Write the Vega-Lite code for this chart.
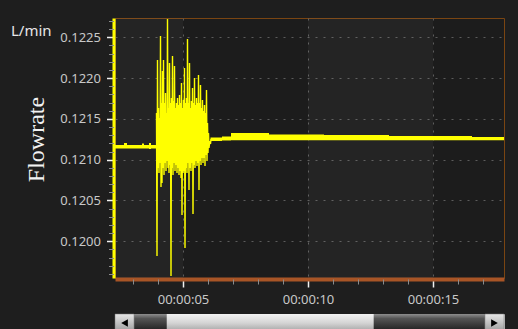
{
  "$schema": "https://vega.github.io/schema/vega-lite/v6.json",
  "autosize": {"type": "pad"},
  "padding": {"left": 10, "top": 15, "right": 15, "bottom": 0},
  "background": "#1e1e1e",
  "spacing": 36,
  "bounds": "flush",
  "datasets": {
    "bands": [
      {"from": 0, "to": 5},
      {"from": 10, "to": 15}
    ],
    "envelope": [
      {"segment": "pre", "t": 2.28, "lo": 0.121137, "hi": 0.12118},
      {"segment": "pre", "t": 2.64, "lo": 0.121137, "hi": 0.121205},
      {"segment": "pre", "t": 2.76, "lo": 0.121137, "hi": 0.12118},
      {"segment": "pre", "t": 3.36, "lo": 0.121137, "hi": 0.121199},
      {"segment": "pre", "t": 3.44, "lo": 0.121137, "hi": 0.12118},
      {"segment": "pre", "t": 3.64, "lo": 0.121131, "hi": 0.121205},
      {"segment": "pre", "t": 3.72, "lo": 0.121137, "hi": 0.12118},
      {"segment": "pre", "t": 3.94, "lo": 0.121137, "hi": 0.12118},
      {"segment": "post", "t": 6.1, "lo": 0.121229, "hi": 0.121272},
      {"segment": "post", "t": 6.56, "lo": 0.121235, "hi": 0.121284},
      {"segment": "post", "t": 6.92, "lo": 0.121237, "hi": 0.121327},
      {"segment": "post", "t": 8.44, "lo": 0.121237, "hi": 0.121309},
      {"segment": "post", "t": 10.64, "lo": 0.121237, "hi": 0.121303},
      {"segment": "post", "t": 13.24, "lo": 0.121237, "hi": 0.12129},
      {"segment": "post", "t": 16.56, "lo": 0.121237, "hi": 0.121278},
      {"segment": "post", "t": 17.84, "lo": 0.121237, "hi": 0.121278}
    ],
    "burst": [
      {"t": 3.94, "v": 0.121572}, {"t": 3.96, "v": 0.11982},
      {"t": 3.98, "v": 0.122222}, {"t": 4.0, "v": 0.120898},
      {"t": 4.02, "v": 0.121634}, {"t": 4.04, "v": 0.120837},
      {"t": 4.06, "v": 0.121511}, {"t": 4.08, "v": 0.12096},
      {"t": 4.1, "v": 0.122516}, {"t": 4.12, "v": 0.120665},
      {"t": 4.14, "v": 0.121695}, {"t": 4.16, "v": 0.120714},
      {"t": 4.18, "v": 0.122087}, {"t": 4.2, "v": 0.120898},
      {"t": 4.22, "v": 0.122222}, {"t": 4.24, "v": 0.120813},
      {"t": 4.26, "v": 0.121695}, {"t": 4.28, "v": 0.12096},
      {"t": 4.3, "v": 0.121817}, {"t": 4.32, "v": 0.120862},
      {"t": 4.34, "v": 0.121572}, {"t": 4.36, "v": 0.120984},
      {"t": 4.38, "v": 0.122724}, {"t": 4.4, "v": 0.120898},
      {"t": 4.42, "v": 0.121634}, {"t": 4.44, "v": 0.120837},
      {"t": 4.46, "v": 0.122185}, {"t": 4.48, "v": 0.120935},
      {"t": 4.5, "v": 0.121695}, {"t": 4.52, "v": 0.119575},
      {"t": 4.54, "v": 0.121756}, {"t": 4.56, "v": 0.120898},
      {"t": 4.58, "v": 0.122271}, {"t": 4.6, "v": 0.120813},
      {"t": 4.62, "v": 0.121719}, {"t": 4.64, "v": 0.12096},
      {"t": 4.66, "v": 0.122148}, {"t": 4.68, "v": 0.120862},
      {"t": 4.7, "v": 0.121634}, {"t": 4.72, "v": 0.120935},
      {"t": 4.74, "v": 0.121695}, {"t": 4.76, "v": 0.120837},
      {"t": 4.78, "v": 0.121756}, {"t": 4.8, "v": 0.120898},
      {"t": 4.82, "v": 0.12167}, {"t": 4.84, "v": 0.120813},
      {"t": 4.86, "v": 0.121793}, {"t": 4.88, "v": 0.120862},
      {"t": 4.9, "v": 0.121695}, {"t": 4.92, "v": 0.120776},
      {"t": 4.94, "v": 0.12194}, {"t": 4.96, "v": 0.120322},
      {"t": 4.98, "v": 0.121634}, {"t": 5.0, "v": 0.120837},
      {"t": 5.02, "v": 0.121732}, {"t": 5.04, "v": 0.120862},
      {"t": 5.06, "v": 0.122124}, {"t": 5.08, "v": 0.119918},
      {"t": 5.1, "v": 0.121695}, {"t": 5.12, "v": 0.120898},
      {"t": 5.14, "v": 0.121756}, {"t": 5.16, "v": 0.120837},
      {"t": 5.18, "v": 0.122479}, {"t": 5.2, "v": 0.12096},
      {"t": 5.22, "v": 0.121695}, {"t": 5.24, "v": 0.120629},
      {"t": 5.26, "v": 0.122185}, {"t": 5.28, "v": 0.120898},
      {"t": 5.3, "v": 0.121634}, {"t": 5.32, "v": 0.120862},
      {"t": 5.34, "v": 0.121719}, {"t": 5.36, "v": 0.12096},
      {"t": 5.38, "v": 0.121879}, {"t": 5.4, "v": 0.120335},
      {"t": 5.42, "v": 0.121695}, {"t": 5.44, "v": 0.120935},
      {"t": 5.46, "v": 0.122001}, {"t": 5.48, "v": 0.120898},
      {"t": 5.5, "v": 0.12167}, {"t": 5.52, "v": 0.120984},
      {"t": 5.54, "v": 0.121756}, {"t": 5.56, "v": 0.120923},
      {"t": 5.58, "v": 0.121695}, {"t": 5.6, "v": 0.12096},
      {"t": 5.62, "v": 0.122038}, {"t": 5.64, "v": 0.120629},
      {"t": 5.66, "v": 0.121695}, {"t": 5.68, "v": 0.120984},
      {"t": 5.7, "v": 0.121916}, {"t": 5.72, "v": 0.120935},
      {"t": 5.74, "v": 0.121634}, {"t": 5.76, "v": 0.121021},
      {"t": 5.78, "v": 0.121732}, {"t": 5.8, "v": 0.12096},
      {"t": 5.82, "v": 0.121597}, {"t": 5.84, "v": 0.121021},
      {"t": 5.86, "v": 0.12167}, {"t": 5.88, "v": 0.120923},
      {"t": 5.9, "v": 0.121572}, {"t": 5.92, "v": 0.121058},
      {"t": 5.94, "v": 0.121854}, {"t": 5.96, "v": 0.120984},
      {"t": 5.98, "v": 0.12145}, {"t": 6.0, "v": 0.121082},
      {"t": 6.02, "v": 0.121327}, {"t": 6.04, "v": 0.121143},
      {"t": 6.07, "v": 0.121229}, {"t": 6.1, "v": 0.121192},
      {"t": 6.12, "v": 0.121253}
    ],
    "scroll": [
      {"part": "track", "from": 0, "to": 1},
      {"part": "thumb", "from": 0.133, "to": 0.665},
      {"part": "left-button", "from": 0, "to": 0.049},
      {"part": "right-button", "from": 0.951, "to": 1}
    ]
  },
  "vconcat": [
    {
      "width": 389,
      "height": 260,
      "view": {"fill": "#1c1c1c", "stroke": "#7a4512", "strokeWidth": 1},
      "resolve": {"axis": {"x": "independent", "y": "independent"}},
      "layer": [
        {
          "data": {"name": "bands"},
          "mark": {"type": "rect", "color": "#ffffff", "opacity": 0.04, "clip": true},
          "encoding": {
            "x": {"field": "from", "type": "quantitative", "scale": {"domain": [2.28, 17.84], "nice": false, "zero": false}, "axis": null},
            "x2": {"field": "to"}
          }
        },
        {
          "data": {"name": "envelope"},
          "mark": {"type": "area", "color": "#ffff00", "interpolate": "step-after", "opacity": 1},
          "encoding": {
            "x": {
              "field": "t", "type": "quantitative",
              "scale": {"domain": [2.28, 17.84], "nice": false, "zero": false},
              "axis": {
                "orient": "bottom", "values": [5, 10, 15],
                "labelExpr": "'00:00:' + (datum.value < 10 ? '0' : '') + datum.value",
                "grid": true, "gridColor": "#5c5c5c", "gridDash": [2, 6], "gridWidth": 1,
                "domainColor": "#a85526", "domainWidth": 4,
                "tickColor": "#f0f0f0", "tickSize": 8, "tickWidth": 1.5,
                "labelColor": "#c8c8c8", "labelFont": "Noto Sans", "labelFontSize": 13, "labelPadding": 6,
                "title": null, "offset": 1
              }
            },
            "y": {
              "field": "hi", "type": "quantitative",
              "scale": {"domain": [0.11955, 0.122737], "nice": false, "zero": false},
              "axis": {
                "orient": "left", "values": [0.12, 0.1205, 0.121, 0.1215, 0.122, 0.1225], "format": ".4f",
                "grid": true, "gridColor": "#5c5c5c", "gridDash": [2, 6], "gridWidth": 1,
                "domainColor": "#ffff00", "domainWidth": 3,
                "tickColor": "#f0f0f0", "tickSize": 7, "tickWidth": 1.5,
                "labelColor": "#c8c8c8", "labelFont": "Noto Sans", "labelFontSize": 13, "labelPadding": 6,
                "title": "Flowrate", "titleFont": "Liberation Serif", "titleFontSize": 24, "titleFontWeight": "normal",
                "titleColor": "#f2f2f2", "titleAngle": -90, "titleX": -70, "titleY": 121,
                "titleAlign": "center", "titleBaseline": "alphabetic",
                "offset": 1.5
              }
            },
            "y2": {"field": "lo"},
            "detail": {"field": "segment"}
          }
        },
        {
          "data": {"name": "burst"},
          "mark": {"type": "line", "color": "#ffff00", "strokeWidth": 1.4},
          "encoding": {
            "x": {
              "field": "t", "type": "quantitative",
              "scale": {"domain": [2.28, 17.84], "nice": false, "zero": false},
              "axis": {
                "orient": "bottom", "values": [3, 4, 6, 7, 8, 9, 11, 12, 13, 14, 16, 17],
                "labels": false, "grid": false, "domain": false,
                "tickColor": "#8c8c8c", "tickSize": 5, "tickWidth": 1,
                "title": null, "offset": 1
              }
            },
            "y": {
              "field": "v", "type": "quantitative",
              "scale": {"domain": [0.11955, 0.122737], "nice": false, "zero": false},
              "axis": {
                "orient": "left",
                "values": [0.1196, 0.1197, 0.1198, 0.1199, 0.1201, 0.1202, 0.1203, 0.1204, 0.1206, 0.1207, 0.1208, 0.1209, 0.1211, 0.1212, 0.1213, 0.1214, 0.1216, 0.1217, 0.1218, 0.1219, 0.1221, 0.1222, 0.1223, 0.1224, 0.1226, 0.1227],
                "labels": false, "grid": false, "domain": false,
                "tickColor": "#8c8c8c", "tickSize": 5, "tickWidth": 1,
                "title": "L/min", "titleAngle": 0, "titleX": -103, "titleY": 17,
                "titleAlign": "left", "titleBaseline": "alphabetic",
                "titleFont": "Noto Sans", "titleFontSize": 15, "titleFontWeight": "normal", "titleColor": "#e6e6e6",
                "offset": 1.5
              }
            }
          }
        }
      ]
    },
    {
      "width": 389,
      "height": 18,
      "data": {"name": "scroll"},
      "view": {"stroke": "#bdbdbd", "strokeWidth": 1, "fill": "#2a2a2a"},
      "encoding": {
        "x": {"field": "from", "type": "quantitative", "scale": {"domain": [0, 1], "nice": false, "zero": false}, "axis": null},
        "x2": {"field": "to"}
      },
      "layer": [
        {
          "transform": [{"filter": "datum.part == 'track'"}],
          "mark": {"type": "rect", "fill": {"gradient": "linear", "x1": 0, "y1": 0, "x2": 0, "y2": 1,
            "stops": [{"offset": 0, "color": "#8e8e8e"}, {"offset": 0.25, "color": "#555555"}, {"offset": 1, "color": "#1a1a1a"}]}}
        },
        {
          "transform": [{"filter": "datum.part == 'thumb'"}],
          "mark": {"type": "rect", "fill": {"gradient": "linear", "x1": 0, "y1": 0, "x2": 0, "y2": 1,
            "stops": [{"offset": 0, "color": "#f2f2f2"}, {"offset": 0.5, "color": "#d4d4d4"}, {"offset": 1, "color": "#a0a0a0"}]}}
        },
        {
          "transform": [{"filter": "datum.part == 'left-button' || datum.part == 'right-button'"}],
          "mark": {"type": "rect", "stroke": "#777777", "strokeWidth": 0.5, "fill": {"gradient": "linear", "x1": 0, "y1": 0, "x2": 0, "y2": 1,
            "stops": [{"offset": 0, "color": "#e6e6e6"}, {"offset": 1, "color": "#9a9a9a"}]}}
        },
        {
          "transform": [{"filter": "datum.part == 'left-button'"}, {"calculate": "(datum.from + datum.to) / 2", "as": "mid"}],
          "mark": {"type": "point", "shape": "triangle-left", "filled": true, "color": "#000000", "opacity": 1, "size": 60},
          "encoding": {"x": {"field": "mid", "type": "quantitative"}, "x2": null}
        },
        {
          "transform": [{"filter": "datum.part == 'right-button'"}, {"calculate": "(datum.from + datum.to) / 2", "as": "mid"}],
          "mark": {"type": "point", "shape": "triangle-right", "filled": true, "color": "#000000", "opacity": 1, "size": 60},
          "encoding": {"x": {"field": "mid", "type": "quantitative"}, "x2": null}
        }
      ]
    }
  ]
}
